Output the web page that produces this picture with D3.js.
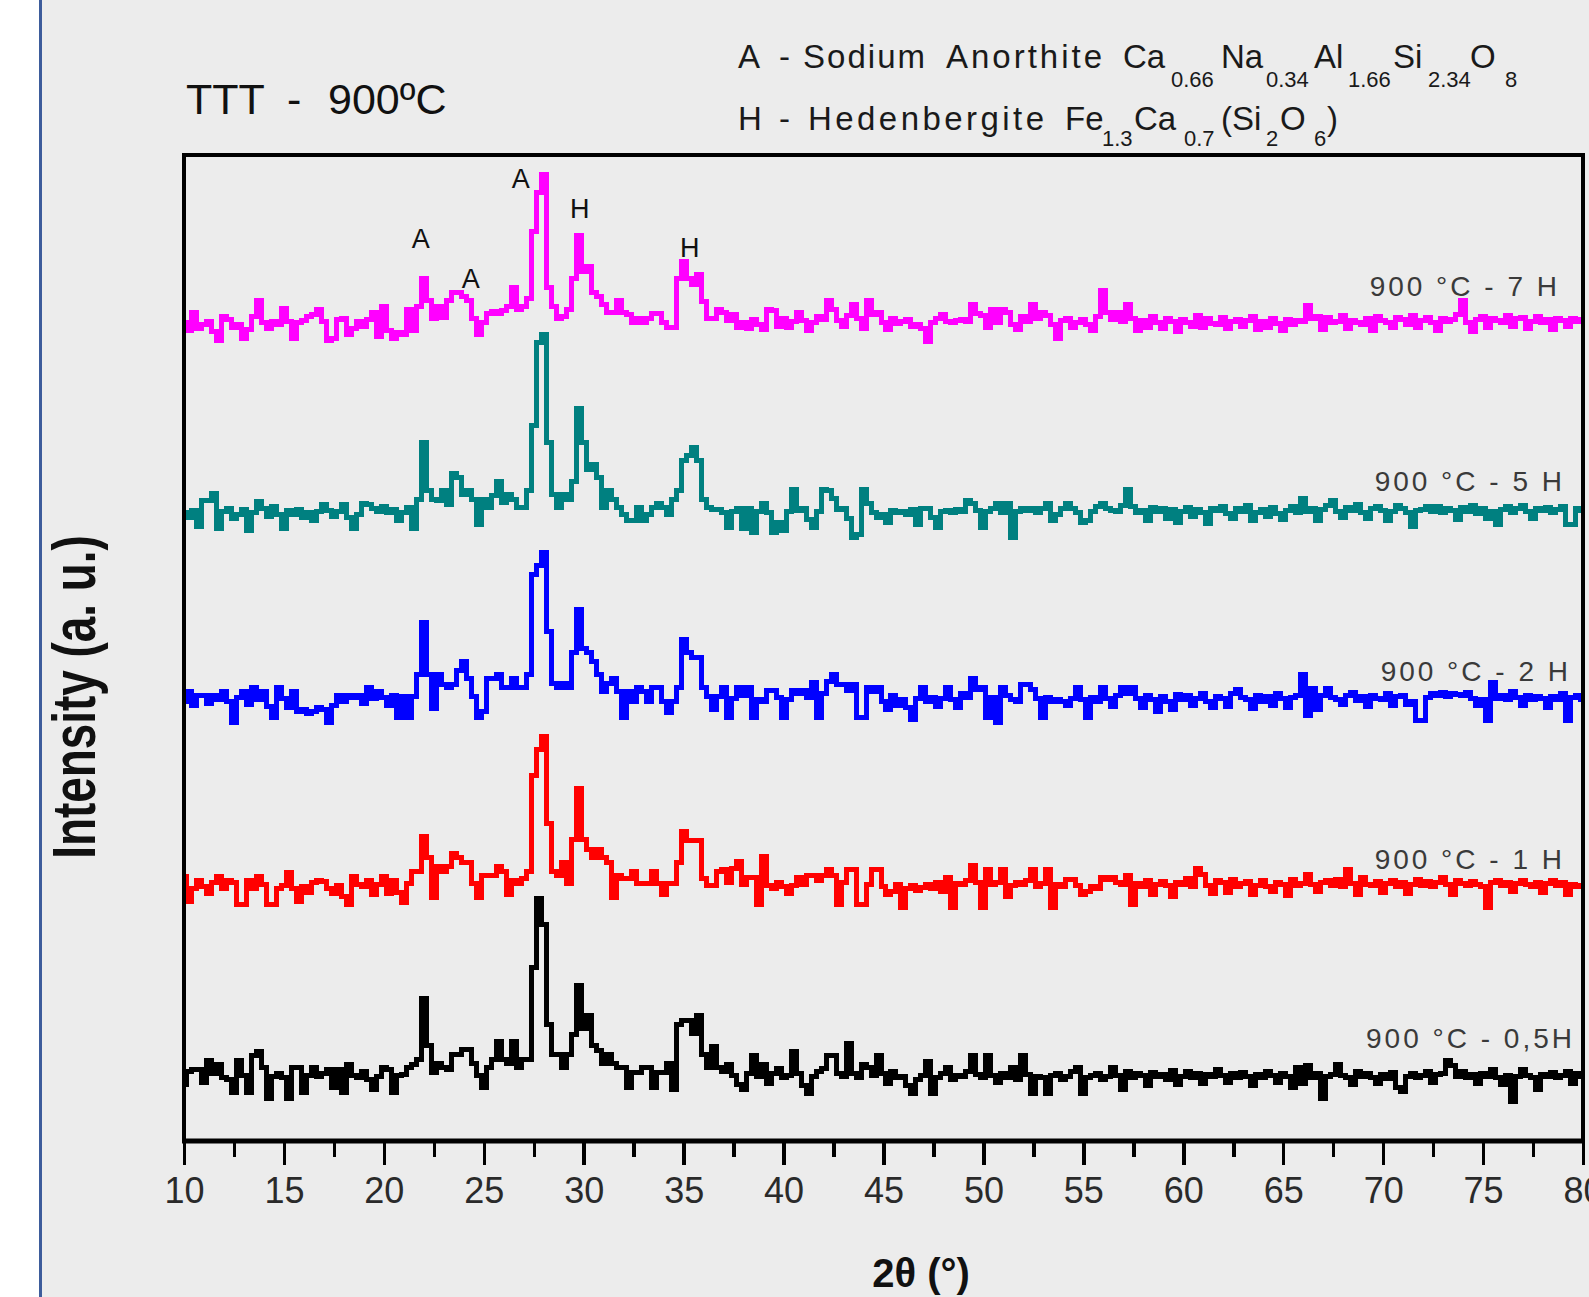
<!DOCTYPE html>
<html>
<head>
    <meta charset="utf-8">
    <title>TTT - 900ºC</title>
    <style>
        body { margin: 0; background: #fff; }
        svg { display: block; }
        text { font-family: "Liberation Sans", Arial, sans-serif; }
        .trace { fill: none; stroke-width: 5; shape-rendering: crispEdges; }
        .frame { fill: none; stroke: #000; stroke-width: 3.5; shape-rendering: crispEdges; }
    </style>
</head>
<body>
    <svg width="1589" height="1297"></svg>
    <script src="https://d3js.org/d3.v7.min.js"></script>
    <script>
    // 2θ grid of the scans (degrees)
    var twoThetaStart = 10, twoThetaStep = 0.25;

    var seriesLabels = ["900 °C - 0,5H", "900 °C - 1 H", "900 °C - 2 H", "900 °C - 5 H", "900 °C - 7 H"];
    var seriesColors = ["#000000", "#ff0000", "#0000ff", "#008080", "#ff00ff"];
    // vertical offset of every scan (a. u.)
    var offsets = [62, 253, 440, 627, 817];

    var majorTicks = [10, 15, 20, 25, 30, 35, 40, 45, 50, 55, 60, 65, 70, 75, 80];
    var minorTicks = [12.5, 17.5, 22.5, 27.5, 32.5, 37.5, 42.5, 47.5, 52.5, 57.5, 62.5, 67.5, 72.5, 77.5];

    // phase marks above the 7 H scan: letter, 2θ, intensity above that scan
    var markLetters = ["A", "A", "A", "H", "H"];
    var markTwoTheta = [21.85, 24.35, 26.85, 29.8, 35.3];
    var markLevel = [76, 36, 136, 106, 67];

    // intensities, one value per 0.25° from 10 to 80
    var int05h = [
        -5, 8, 10, 10,  -3, 19, 6, 15,  2, 0, -13, 19,  4, -13, 24, 28,  12, -19, 3, 6,
        2, -19, 12, 12,  -13, 4, 12, 3,  6, 10, -8, 10,  -13, 15, 4, 2,  8, 0, -10, 3,
        12, 10, -13, 4,
        5, 12, 15, 20,  81, 34, 7, 16,  12, 10, 25, 25,  30, 30, 16, 4,  -8, 12, 20, 38,
        20, 16, 38, 12,  20, 20, 112, 181,  155, 55, 25, 25,  12, 25, 45, 94,  51, 64, 34, 29,
        16, 25, 16, 12,  12, -8, 7, 7,  12, 12, -8, 7,  7, 16, -10, 55,  59, 59, 46, 64,
        25, 12, 33, 12,
        8, 15, 4, -5,  -10, 6, 24, 3,  15, -4, 6, 11,  2, 4, 28, 6,  -6, -14, 3, 8,
        11, 24, 24, 6,  3, 36, 6, 2,  15, 12, 4, 24,  6, -4, 8, 2,  3, -6, -14, 0,
        4, 18, -14, 2,  6, 12, 0, 4,  3, 8, 24, 5,  2, 24, 4, -3,  6, 2, 12, 0,
        24, 5, -14, 3,  2, -14, 4, 6,  0, 3, 8, 12,  -14, 2, 4, 6,  0, 3, 12, 4,
        -10, 8, 2, 6,  4, -6, 7, 3,  5, 0, 9, -5,  3, 8, 2, 6,  -4, 5, 3, 10,
        4, -3, 6, 2,  7, 3, -6, 5,  2, 8, 4, -3,  6, 3, -8, 12,  -4, 14, 2, 6,
        -19, 3, 5, 15,  4, 2, -5, 8,  3, 6, 2, -4,  5, 1, 7, -8,  -12, 3, 6, 2,
        4, 8, -3, 5,  6, 19, 14, 3,  8, 2, 5, -4,  6, 3, 10, 2,  -5, 4, -22, 3,
        10, 4, 2, -10,  5, 3, 7, 2,  4, 8, -4, 6,  3
    ];
    var int1h = [
        12, -13, 0, 8,  2, -5, 6, 12,  0, 8, 6, -16,  -16, 8, 0, 12,  4, -16, -16, 0,
        3, 16, 0, -13,  2, -4, 6, 8,  7, 0, -5, 3,  -8, -16, 12, 4,  2, 8, -6, 4,
        12, -5, 8, -4,
        -14, 5, 17, 17,  52, 31, -9, 22,  17, 22, 35, 31,  26, 26, 5, -9,  13, 13, 13, 22,
        17, -6, 8, 5,  10, 17, 113, 139,  152, 65, 17, 13,  26, 5, 49, 100,  49, 39, 31, 39,
        31, 26, -9, 13,  10, 10, 17, 5,  5, 5, 17, 5,  -6, 5, 5, 26,  57, 48, 48, 48,
        10, 3, 3, 17,
        19, 6, 20, 27,  4, 11, 11, -16,  32, 3, 0, 6,  2, -5, 3, 11,  4, 13, 13, 8,
        13, 19, 13, -16,  6, 19, 19, -16,  -16, 4, 19, 19,  2, -6, -3, 4,  -19, 0, 3, -2,
        1, 4, 0, 6,  -3, 11, -19, 5,  4, 8, 23, 6,  -19, 19, 4, 6,  19, -8, 3, 6,
        4, 8, 19, 2,  5, 19, -19, 4,  2, 9, 9, 3,  -6, -3, 2, 0,  11, 9, 11, 6,
        4, 13, -16, 5,  2, 8, -6, 4,  7, 3, -8, 6,  4, 10, 2, 20,  14, 3, -5, 8,
        6, -4, 9, 2,  5, 7, -6, 3,  8, 2, -3, 6,  4, -7, 9, 3,  5, 14, 4, -3,
        6, 8, 3, 9,  2, 19, 5, -6,  11, 4, 3, 7,  -4, 5, 8, 2,  6, -5, 4, 9,
        3, 7, 2, 6,  11, 4, -6, 8,  5, 3, 7, 4,  2, -19, 6, 8,  3, 6, -3, 5,
        8, 4, 2, 6,  -4, 5, 8, 3,  6, -6, 4, 2,  3
    ];
    var int2h = [
        0, 10, -4, 6,  6, -2, 6, 2,  10, 0, -21, 4,  10, -3, 14, 2,  10, -5, -16, 14,
        3, -6, 10, -10,  -8, -12, -10, -6,  -8, -21, -4, 6,  0, 6, 4, 6,  -2, 14, 3, 10,
        4, -4, 6, -16,
        5, -16, 5, 27,  79, 27, -7, 27,  17, 14, 17, 31,  40, 23, 5, -16,  -10, 23, 23, 27,
        14, 14, 23, 14,  14, 27, 127, 136,  149, 70, 18, 14,  18, 14, 49, 92,  53, 49, 40, 27,
        10, 18, 23, 10,  -16, 10, 0, 14,  10, 0, 14, 14,  0, -11, 0, 14,  62, 49, 44, 44,
        14, 5, -8, 5,
        14, -16, 3, 14,  6, 14, -16, 2,  0, 11, 11, 4,  -16, 2, 11, 8,  11, 4, 19, -16,
        8, 20, 27, 17,  17, 11, 17, -16,  -16, 14, 10, 14,  0, -8, 6, -4,  2, -6, -18, 3,
        14, 0, 4, -5,  3, 14, 2, -6,  8, 4, 23, 12,  14, -16, 4, -21,  14, 6, 2, 0,
        17, 17, 12, 3,  -16, 4, 0, 2,  0, -4, 3, 14,  2, -16, 4, 0,  14, 3, -5, 6,
        14, 8, 14, 3,  -6, 6, 2, -10,  5, 0, -8, 7,  2, 6, -4, 3,  8, 0, -6, 5,
        3, -5, 8, 12,  4, 2, -7, 6,  0, 5, -4, 8,  3, -6, 4, 6,  27, -14, 13, -8,
        6, 13, 4, 2,  -3, 6, 9, 1,  5, -5, 6, 3,  2, 8, -4, 5,  6, -3, 0, -19,
        -19, 4, 8, 6,  9, 5, 8, 7,  6, 9, 3, -4,  2, -19, 19, 3,  6, 2, 10, 4,
        -4, 6, 2, 5,  3, -6, 5, 2,  8, -19, 4, 6,  2
    ];
    var int5h = [
        2, -3, 4, -12,  14, 14, 21, -14,  3, 6, -4, 0,  5, -16, 2, 13,  6, -2, 8, 0,
        -14, 4, 0, 5,  -3, 2, -6, 3,  10, 4, -2, 3,  10, -3, -14, 0,  11, 10, 6, 3,
        8, 2, 5, -6,
        2, 7, -14, 15,  72, 24, 15, 14,  24, 10, 41, 37,  20, 24, 15, -10,  15, 7, 19, 33,
        12, 20, 15, 7,  7, 24, 89, 172,  180, 72, 20, 7,  20, 15, 33, 106,  72, 45, 50, 37,
        7, 24, 15, 7,  0, -6, -6, 7,  -6, 0, 7, 11,  7, 0, 15, 24,  54, 59, 67, 54,
        15, 7, 5, 5,
        2, -13, 3, 6,  -14, 6, -18, 3,  11, 2, -18, -8,  -16, 3, 25, 4,  6, -5, -13, 3,
        25, 24, 16, 5,  6, -4, -23, -20,  25, 11, 2, -3,  0, -8, 4, 2,  3, 0, 5, -10,
        6, 6, -3, -13,  3, 4, 2, 5,  3, 14, 11, 4,  -13, 3, 6, 11,  2, 11, -23, 3,
        6, 4, 6, 2,  6, 11, -6, 0,  6, 11, 6, 2,  -8, -6, 3, 8,  11, 6, 4, 3,
        9, 25, 8, 2,  4, -6, 7, 3,  6, -4, 5, -8,  3, 7, -2, 5,  2, -9, 6, 4,
        8, 1, -4, 6,  3, 9, -6, 2,  5, -2, 7, 1,  -5, 4, 8, 2,  16, 3, 6, -6,
        5, 9, 14, 3,  -3, 7, 4, 10,  2, -4, 6, 8,  4, -6, 3, 9,  6, 2, -12, 4,
        5, 8, 3, 8,  2, 6, 4, -5,  7, 3, 9, 1,  6, -4, 3, -10,  5, 8, 2, 6,
        9, 3, -4, 6,  4, 7, 2, 5,  8, -10, -10, 6,  4
    ];
    var int7h = [
        2, -6, 12, -4,  0, 3, -7, -16,  8, 5, -3, 0,  -14, -5, 8, 24,  2, -4, 3, 0,
        16, 3, -14, 2,  4, 8, 10, 15,  3, -16, -14, 5,  6, -10, -4, 3,  -2, 5, 12, -12,
        18, -6, -14, -8,
        -10, 15, -6, 18,  46, 24, 6, 18,  7, 24, 32, 32,  28, 24, 6, -10,  2, 11, 13, 11,
        14, 18, 37, 15,  18, 26, 93, 132,  150, 37, 18, 6,  8, 15, 46, 89,  53, 58, 32, 28,
        20, 12, 12, 24,  12, 10, 2, 6,  2, 6, 11, 11,  2, -3, -3, 46,  63, 46, 40, 50,
        23, 6, 6, 15,
        12, 4, 10, -3,  2, -4, 5, 0,  -5, 15, 14, -2,  6, -3, 3, 12,  4, -6, 2, 8,
        5, 24, 15, 4,  -2, 9, 20, 6,  -4, 24, 10, 12,  2, -5, 6, 1,  3, 5, -2, 0,
        -4, -17, 2, 6,  10, 3, 2, 4,  5, 3, 20, 11,  9, -3, 15, 2,  15, 12, 0, -5,
        8, 3, 20, 6,  12, 9, 0, -14,  4, 6, -3, 2,  5, 0, -6, 8,  34, 12, 5, 12,
        3, 20, 6, -6,  4, -3, 8, 2,  -4, 6, 3, -7,  5, 2, -2, 9,  -3, 6, 1, 0,
        7, -4, 3, 5,  -2, 4, 8, -5,  3, -3, 6, 1,  -6, 5, 0, 4,  3, 19, 6, 8,
        -5, 7, 2, 3,  9, -4, 4, 2,  0, 6, -6, 8,  4, 2, -3, 7,  5, 0, 9, -3,
        4, 7, 2, -6,  6, 3, 5, 10,  24, 2, -7, 5,  8, -3, 6, 4,  2, 9, -2, 6,
        7, -4, 3, 8,  2, 5, -5, 6,  4, -2, 6, 3,  5
    ];

    var scans = [int05h, int1h, int2h, int5h, int7h];

    var svg = d3.select("svg"),
        width = +svg.attr("width"),
        height = +svg.attr("height");

    var plot = { left: 184, right: 1583, top: 155, bottom: 1141 };

    // page background with the white strip and thin blue rule at left
    svg.append("rect").attr("width", width).attr("height", height).attr("fill", "#ececec");
    svg.append("rect").attr("width", 39).attr("height", height).attr("fill", "#ffffff");
    svg.append("rect").attr("x", 39).attr("width", 3).attr("height", height).attr("fill", "#3d5c9b");

    var x = d3.scaleLinear().domain([10, 80]).range([plot.left, plot.right]);
    var y = d3.scaleLinear().domain([0, plot.bottom - plot.top]).range([plot.bottom, plot.top]);

    svg.append("clipPath").attr("id", "clip")
      .append("rect")
        .attr("x", plot.left).attr("y", plot.top)
        .attr("width", plot.right - plot.left).attr("height", plot.bottom - plot.top);

    var line = d3.line()
        .curve(d3.curveStep)
        .x(function(d) { return x(d[0]); })
        .y(function(d) { return y(d[1]); });

    var traces = svg.append("g").attr("clip-path", "url(#clip)");
    scans.forEach(function(values, k) {
      var pts = values.map(function(v, i) {
        return [twoThetaStart + i * twoThetaStep, v + offsets[k]];
      });
      traces.append("path")
          .datum(pts)
          .attr("class", "trace")
          .attr("stroke", seriesColors[k])
          .attr("d", line);
    });

    // frame
    svg.append("rect")
        .attr("class", "frame")
        .attr("x", plot.left).attr("y", plot.top)
        .attr("width", plot.right - plot.left).attr("height", plot.bottom - plot.top);
    svg.append("line")
        .attr("x1", plot.left - 2).attr("x2", plot.right + 2)
        .attr("y1", plot.bottom).attr("y2", plot.bottom)
        .attr("stroke", "#000").attr("stroke-width", 5);

    // x axis, major and minor ticks
    var gMinor = svg.append("g")
        .attr("transform", "translate(0," + plot.bottom + ")")
        .call(d3.axisBottom(x).tickValues(minorTicks).tickSize(16).tickFormat(""));
    var gMajor = svg.append("g")
        .attr("transform", "translate(0," + plot.bottom + ")")
        .call(d3.axisBottom(x).tickValues(majorTicks).tickSize(24).tickPadding(12).tickFormat(d3.format("d")));
    [gMinor, gMajor].forEach(function(g) {
      g.select(".domain").remove();
      g.selectAll(".tick line").attr("stroke", "#000").attr("stroke-width", 3.5)
          .attr("shape-rendering", "crispEdges");
    });
    gMajor.attr("font-family", null).attr("font-size", null);
    gMajor.selectAll(".tick text")
        .attr("fill", "#2a2a2a")
        .style("font-size", "36px");

    // axis titles
    svg.append("text")
        .attr("x", 921).attr("y", 1287)
        .attr("text-anchor", "middle")
        .style("font-size", "40px").style("font-weight", "bold")
        .attr("fill", "#111")
        .text("2θ (°)");
    svg.append("text")
        .attr("transform", "translate(95,697) rotate(-90) scale(0.74,1)")
        .attr("text-anchor", "middle")
        .style("font-size", "62px").style("font-weight", "bold")
        .attr("fill", "#111")
        .text("Intensity (a. u.)");

    // title
    var title = svg.append("text").attr("y", 114).style("font-size", "43px").attr("fill", "#111");
    title.append("tspan").attr("x", 186).text("TTT");
    title.append("tspan").attr("x", 287).text("-");
    title.append("tspan").attr("x", 328).text("900ºC");

    // phase legend with subscripts
    var legendRows = [
      { y: 68, sy: 87, parts: [
        ["A", 738], ["-", 779], ["Sodium", 803, 122], ["Anorthite", 946, 156],
        ["Ca", 1123], ["0.66", 1171, 0, 1], ["Na", 1221], ["0.34", 1266, 0, 1],
        ["Al", 1314], ["1.66", 1348, 0, 1], ["Si", 1393], ["2.34", 1428, 0, 1],
        ["O", 1470], ["8", 1505, 0, 1] ] },
      { y: 130, sy: 146, parts: [
        ["H", 738], ["-", 779], ["Hedenbergite", 808, 236],
        ["Fe", 1065], ["1.3", 1102, 0, 1], ["Ca", 1134], ["0.7", 1184, 0, 1],
        ["(Si", 1221], ["2", 1266, 0, 1], ["O", 1280], ["6", 1314, 0, 1], [")", 1327] ] }
    ];
    legendRows.forEach(function(row) {
      row.parts.forEach(function(p) {
        var t = svg.append("text")
            .attr("x", p[1])
            .attr("y", p[3] ? row.sy : row.y)
            .attr("fill", "#1a1a1a")
            .style("font-size", p[3] ? "22px" : "33px")
            .text(p[0]);
        if (p[2]) t.attr("textLength", p[2]).attr("lengthAdjust", "spacing");
      });
    });

    // scan labels at right
    var labelEnd = [1575, 1565, 1571, 1565, 1560];
    var labelLift = [31, 19, 20, 23, 28];
    seriesLabels.forEach(function(s, k) {
      svg.append("text")
          .attr("x", labelEnd[k])
          .attr("y", y(offsets[k]) - labelLift[k])
          .attr("text-anchor", "end")
          .attr("fill", "#3a3a3a")
          .style("font-size", "28px")
          .style("letter-spacing", "3px")
          .text(s);
    });

    // phase marks over the 7 H scan
    markLetters.forEach(function(m, i) {
      svg.append("text")
          .attr("x", x(markTwoTheta[i]))
          .attr("y", y(offsets[4] + markLevel[i]))
          .attr("text-anchor", "middle")
          .attr("fill", "#111")
          .style("font-size", "27px")
          .text(m);
    });
    </script>
</body>
</html>
